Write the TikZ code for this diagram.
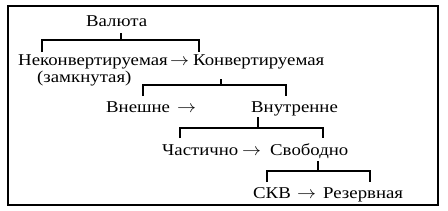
\documentclass[tikz,border=0pt]{standalone}
\usepackage{fontspec}
\setmainfont[FakeStretch=1.14]{Liberation Serif}
\newcommand{\rarr}{\scalebox{1.1}[1]{$\rightarrow$}}
\begin{document}
\begin{tikzpicture}[x=1pt,y=-1pt,
  txt/.style={inner sep=0pt, anchor=base west, font=\fontsize{16.5}{18}\selectfont},
  link/.style={line width=1.1pt},
  frame/.style={line width=1.3pt}]
\useasboundingbox (0,0) rectangle (448,210);
\draw[frame] (8,6) rectangle (438,205);
% texts
\node[txt] (val) at (86,26) {Валюта};
\node[txt] (nk) at (18,65) {Неконвертируемая};
\node[txt] (a1) at (170,65) {\rarr};
\node[txt] (kon) at (193,65) {Конвертируемая};
\node[txt] (zam) at (37,82) {(замкнутая)};
\node[txt] (vn) at (106,112) {Внешне};
\node[txt] (a2) at (177,112) {\rarr};
\node[txt] (vt) at (251,112) {Внутренне};
\node[txt] (ch) at (162,155) {Частично};
\node[txt] (a3) at (242,155) {\rarr};
\node[txt] (sv) at (270,155) {Свободно};
\node[txt] (skv) at (253,198) {СКВ};
\node[txt] (a4) at (297,198) {\rarr};
\node[txt] (rez) at (323,198) {Резервная};
% bracket coordinates
\coordinate (p1) at (121,33);  \coordinate (l1) at (42,52);  \coordinate (r1) at (199,52);
\coordinate (p2) at (221,79);  \coordinate (l2) at (143,96); \coordinate (r2) at (286,96);
\coordinate (p3) at (258,117); \coordinate (l3) at (180,138); \coordinate (r3) at (323,138);
\coordinate (p4) at (318,161); \coordinate (l4) at (267,182); \coordinate (r4) at (370,182);
\draw[link] (p1) -- (p1 |- 0,40);
\draw[link] (l1) -- (l1 |- 0,40) -- (r1 |- 0,40) -- (r1);
\draw[link] (p2) -- (p2 |- 0,85);
\draw[link] (l2) -- (l2 |- 0,85) -- (r2 |- 0,85) -- (r2);
\draw[link] (p3) -- (p3 |- 0,128);
\draw[link] (l3) -- (l3 |- 0,128) -- (r3 |- 0,128) -- (r3);
\draw[link] (p4) -- (p4 |- 0,171);
\draw[link] (l4) -- (l4 |- 0,171) -- (r4 |- 0,171) -- (r4);
\end{tikzpicture}
\end{document}
